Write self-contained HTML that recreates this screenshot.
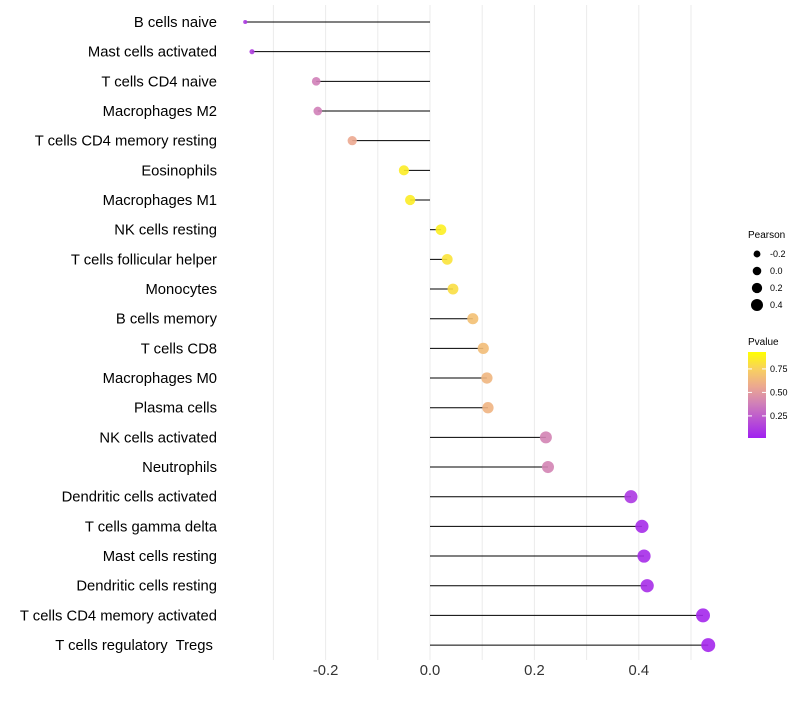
<!DOCTYPE html>
<html><head><meta charset="utf-8"><style>
body{margin:0;background:#fff;font-family:"Liberation Sans",sans-serif}
text{white-space:pre}
</style></head><body>
<svg id="chart" width="800" height="700" xmlns="http://www.w3.org/2000/svg">
<defs><linearGradient id="pg" x1="0" y1="1" x2="0" y2="0">
<stop offset="0" stop-color="#a020f0"/><stop offset="0.4" stop-color="#d080b8"/><stop offset="0.6" stop-color="#eca890"/><stop offset="0.8" stop-color="#f8d060"/><stop offset="1" stop-color="#ffff00"/></linearGradient></defs>
<g id="grid"></g><g id="marks"></g><g id="labels"></g><g id="xticks"></g>
<g id="legend">
<text x="748" y="238" font-size="10" fill="#000">Pearson</text>
<g id="sizeLegend"></g>
<text x="748" y="345" font-size="10" fill="#000">Pvalue</text>
<rect x="748" y="352" width="18" height="86" fill="url(#pg)"/>
<g id="colorTicks"></g>
</g>
</svg>
<script>
const categories=["B cells naive","Mast cells activated","T cells CD4 naive","Macrophages M2","T cells CD4 memory resting","Eosinophils","Macrophages M1","NK cells resting","T cells follicular helper","Monocytes","B cells memory","T cells CD8","Macrophages M0","Plasma cells","NK cells activated","Neutrophils","Dendritic cells activated","T cells gamma delta","Mast cells resting","Dendritic cells resting","T cells CD4 memory activated","T cells regulatory  Tregs "];
const pearson=[-0.354,-0.341,-0.218,-0.215,-0.149,-0.050,-0.038,0.021,0.033,0.044,0.082,0.102,0.109,0.111,0.222,0.226,0.385,0.406,0.410,0.416,0.523,0.533];
const pvalue=[0.10,0.12,0.40,0.40,0.60,0.92,0.92,0.93,0.88,0.86,0.72,0.70,0.67,0.66,0.42,0.42,0.10,0.05,0.05,0.06,0.03,0.03];
const xTicks=[-0.2,0.0,0.2,0.4];
const gridVals=[-0.3,-0.2,-0.1,0,0.1,0.2,0.3,0.4,0.5];
const sizeLegendVals=[-0.2,0.0,0.2,0.4];
const colorTickVals=[0.25,0.50,0.75];
const NS="http://www.w3.org/2000/svg";
const x=v=>430+v*522;
const y=i=>22+i*29.67;
const rk=[[-0.36,1.8],[-0.33,3],[-0.22,4.3],[0,5.3],[0.53,7]];
function r(v){if(v<=rk[0][0])return rk[0][1];for(let k=1;k<rk.length;k++){if(v<=rk[k][0]){const a=rk[k-1],b=rk[k];return a[1]+(b[1]-a[1])*(v-a[0])/(b[0]-a[0]);}}return rk[rk.length-1][1];}
const rl=v=>4.3+4.3*v;
const stops=[[0,[160,32,240]],[0.4,[208,128,184]],[0.6,[236,168,144]],[0.8,[248,208,96]],[1,[255,255,0]]];
function col(p){for(let k=1;k<stops.length;k++){if(p<=stops[k][0]){const a=stops[k-1],b=stops[k],t=(p-a[0])/(b[0]-a[0]);return 'rgb('+a[1].map((c,j)=>Math.round(c+(b[1][j]-c)*t)).join(',')+')';}}return 'rgb(255,255,0)';}
const cy=p=>438-(p-0.015)/(0.93-0.015)*86;
function mk(tag,attrs,parent){const e=document.createElementNS(NS,tag);for(const k in attrs)e.setAttribute(k,attrs[k]);document.getElementById(parent).appendChild(e);return e;}
gridVals.forEach(v=>{const l=mk('line',{x1:x(v),x2:x(v),y1:5,y2:660,stroke:'#ebebeb','stroke-width':1},'grid');

});
categories.forEach((c,i)=>{
const ln=mk('line',{x1:x(0),x2:x(pearson[i]),y1:y(i),y2:y(i),stroke:'#000','stroke-width':1},'marks');


const pt=mk('circle',{cx:x(pearson[i]),cy:y(i),r:r(pearson[i]),fill:col(pvalue[i]),'fill-opacity':0.9},'marks');


const t=mk('text',{x:217,y:y(i)+5,'text-anchor':'end','font-size':14.8,fill:'#000'},'labels');t.textContent=c;

});
xTicks.forEach(v=>{const t=mk('text',{x:x(v),y:675,'text-anchor':'middle','font-size':14.8,fill:'#333'},'xticks');t.textContent=v.toFixed(1);

});
sizeLegendVals.forEach((v,k)=>{const yy=254+k*17;
const c=mk('circle',{cx:757,cy:yy,r:rl(v),fill:'#000'},'sizeLegend');


const t=mk('text',{x:770,y:yy+3,'font-size':9,fill:'#000'},'sizeLegend');t.textContent=v.toFixed(1);});
colorTickVals.forEach(v=>{const yy=cy(v);
mk('line',{x1:748,x2:752,y1:yy,y2:yy,stroke:'#fff'},'colorTicks');mk('line',{x1:762,x2:766,y1:yy,y2:yy,stroke:'#fff'},'colorTicks');
const t=mk('text',{x:770,y:yy+3,'font-size':9,fill:'#000'},'colorTicks');t.textContent=v.toFixed(2);

});
</script>
</body></html>
